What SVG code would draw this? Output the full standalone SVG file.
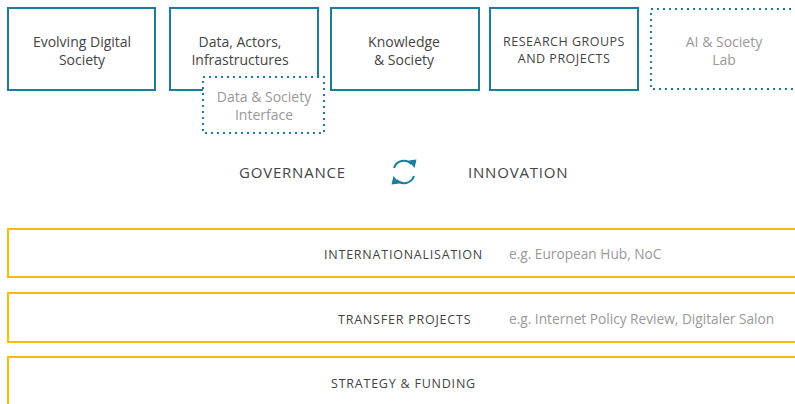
<svg xmlns="http://www.w3.org/2000/svg" width="795" height="404" viewBox="0 0 795 404">
<defs>
<style>
.box{fill:#fff;stroke:#1a7d9e;stroke-width:2}
.dot{fill:#fff;stroke:#1a7d9e;stroke-width:2;stroke-dasharray:2 4}
.band{fill:#fff;stroke:#f9bd00;stroke-width:2}
text{font-family:"Open Sans","Liberation Sans",sans-serif}
.t{font-size:14px;fill:#444;text-anchor:middle}
.tl{font-size:14px;fill:#999;text-anchor:middle}
.c{font-size:12.5px;fill:#444;text-anchor:middle;letter-spacing:0.5px}
.h{font-size:15px;fill:#444;letter-spacing:0.8px}
.b{font-size:12.5px;fill:#444;letter-spacing:0.78px}
.e{font-size:13.7px;fill:#999}
.arc{fill:none;stroke:#1a7d9e;stroke-width:2}
.ah{fill:#1a7d9e}
</style>
</defs>
<g id="evolving">
<rect class="box" x="8" y="8" width="147" height="82"/>
<text class="t" x="82" y="47">Evolving Digital</text>
<text class="t" x="82" y="65">Society</text>
</g>
<g id="data-actors">
<rect class="box" x="170" y="8" width="148" height="82"/>
<text class="t" x="240" y="47">Data, Actors,</text>
<text class="t" x="240" y="65">Infrastructures</text>
</g>
<g id="data-society">
<rect class="dot" x="203" y="77" width="121" height="56"/>
<text class="tl" x="264" y="102">Data &amp; Society</text>
<text class="tl" x="264" y="120">Interface</text>
</g>
<g id="knowledge">
<rect class="box" x="331" y="8" width="148" height="82"/>
<text class="t" x="404" y="47">Knowledge</text>
<text class="t" x="404" y="65">&amp; Society</text>
</g>
<g id="research">
<rect class="box" x="490" y="8" width="148" height="82"/>
<text class="c" x="564" y="46">RESEARCH GROUPS</text>
<text class="c" x="564" y="63">AND PROJECTS</text>
</g>
<g id="ai-lab">
<rect class="dot" x="651" y="9" width="160" height="80"/>
<text class="tl" x="724" y="47">AI &amp; Society</text>
<text class="tl" x="724" y="65">Lab</text>
</g>
<g id="governance">
<text class="h" x="239" y="178">GOVERNANCE</text>
</g>
<g id="cycle">
<path class="arc" d="M394,168 A10.5,10.5 0 0 1 411.5,164"/>
<polygon class="ah" points="408.5,160.5 416.5,159.5 414.5,168"/>
<path class="arc" d="M414,176 A10.5,10.5 0 0 1 396.5,180"/>
<polygon class="ah" points="399.5,183.5 391.5,184.5 393.5,176"/>
</g>
<g id="innovation">
<text class="h" x="468" y="178">INNOVATION</text>
</g>
<g id="internationalisation">
<rect class="band" x="8" y="229" width="800" height="48"/>
<text class="b" x="324" y="259">INTERNATIONALISATION</text>
<text class="e" x="509" y="259">e.g. European Hub, NoC</text>
</g>
<g id="transfer">
<rect class="band" x="8" y="293" width="800" height="49"/>
<text class="b" x="338" y="324">TRANSFER PROJECTS</text>
<text class="e" x="509" y="324">e.g. Internet Policy Review, Digitaler Salon</text>
</g>
<g id="strategy">
<rect class="band" x="8" y="357" width="800" height="60"/>
<text class="b" x="331" y="388">STRATEGY &amp; FUNDING</text>
</g>
<g id="connectors"></g>
</svg>
